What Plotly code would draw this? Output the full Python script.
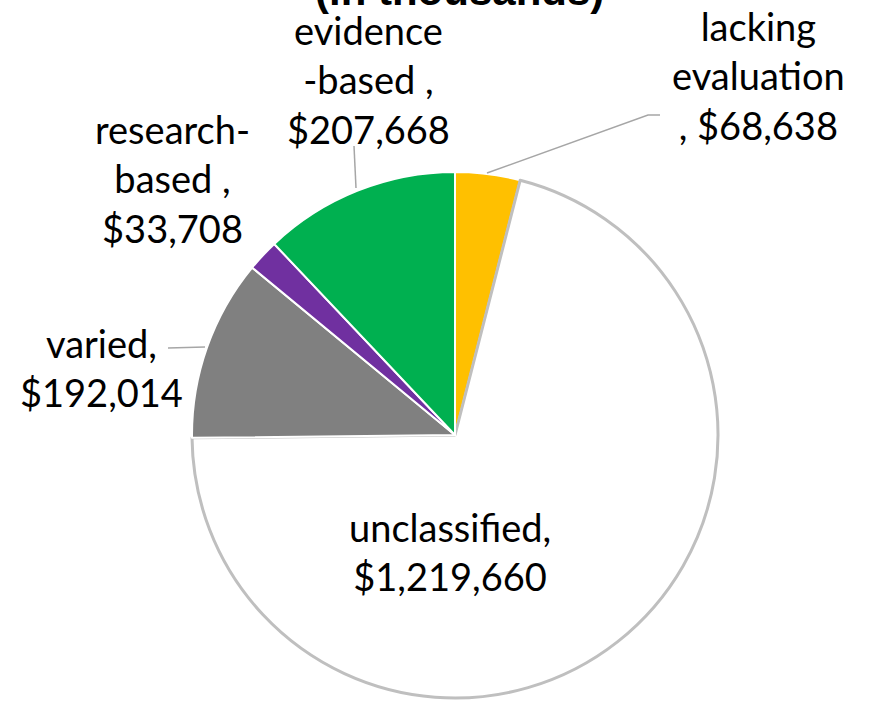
import plotly.graph_objects as go

CATEGORIES = ["lacking evaluation", "unclassified", "varied", "research-based", "evidence-based"]
VALUES = [68638, 1219660, 192014, 33708, 207668]
LABEL_TEXT = [
    "lacking<br>evaluation<br>, $68,638",
    "unclassified,<br>$1,219,660",
    "varied,<br>$192,014",
    "research-<br>based ,<br>$33,708",
    "evidence<br>-based ,<br>$207,668",
]
COLORS = ["#FFC000", "#FFFFFF", "#808080", "#7030A0", "#00B050"]
EDGE_COLORS = ["#FFFFFF", "#BFBFBF", "#FFFFFF", "#FFFFFF", "#FFFFFF"]
EDGE_WIDTHS = [2, 3, 2, 2, 2]

W, H = 876, 701
# label centres in pixels (x, y)
LABEL_POS = [(758, 75), (450, 551), (101, 367), (172, 178), (368, 80)]
LABEL_FONT = dict(family="Lato, Open Sans, sans-serif", size=38, color="#000000")


def px(x, y):
    return x / W, 1 - y / H


fig = go.Figure(go.Pie(
    labels=CATEGORIES, values=VALUES,
    sort=False, direction="clockwise", rotation=0,
    textinfo="none", hoverinfo="label+value",
    marker=dict(colors=COLORS, line=dict(color=EDGE_COLORS, width=EDGE_WIDTHS)),
    domain=dict(x=[192 / W, 718 / W], y=[1 - 698 / H, 1 - 172 / H]),
    showlegend=False,
))

for txt, (x, y) in zip(LABEL_TEXT, LABEL_POS):
    ax, ay = px(x, y)
    fig.add_annotation(text=txt, x=ax, y=ay, xref="paper", yref="paper",
                       xanchor="center", yanchor="middle", showarrow=False,
                       align="center", font=LABEL_FONT)

# leader lines
LEADER = dict(color="#A6A6A6", width=1.5)
fig.add_shape(type="path", xref="paper", yref="paper", line=LEADER,
              path="M {} {} L {} {} L {} {}".format(*px(487, 173), *px(648, 115), *px(660, 115)))
fig.add_shape(type="line", xref="paper", yref="paper", line=LEADER,
              x0=px(356, 188)[0], y0=px(356, 188)[1], x1=px(354, 146)[0], y1=px(354, 146)[1])
fig.add_shape(type="line", xref="paper", yref="paper", line=LEADER,
              x0=px(205, 347)[0], y0=px(205, 347)[1], x1=px(168, 348)[0], y1=px(168, 348)[1])

fig.add_annotation(text="<b>(in thousands)</b>", x=459 / W, y=1 - 16 / H,
                   xref="paper", yref="paper", xanchor="center", yanchor="bottom",
                   showarrow=False,
                   font=dict(family="Liberation Sans, Arial, sans-serif", size=42, color="#000000"))

fig.update_layout(
    width=W, height=H,
    margin=dict(l=0, r=0, t=0, b=0),
    paper_bgcolor="#FFFFFF", plot_bgcolor="#FFFFFF",
)

fig.write_html("out.html", config={"displayModeBar": False},
               post_script="document.body.style.margin = '0';")
